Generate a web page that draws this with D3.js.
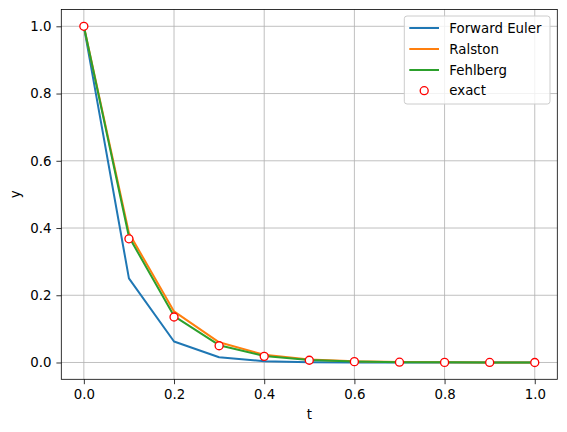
<!DOCTYPE html>
<html>
<head>
<meta charset="utf-8">
<script src="https://cdn.jsdelivr.net/npm/d3@7"></script>
<style>
  body { margin: 0; background: #fff; }
  svg text { font-family: "DejaVu Sans", sans-serif; fill: #000; }
</style>
</head>
<body>
<svg id="chart" width="567" height="432"></svg>
<script>
// time points and solutions
var t = [0.0, 0.1, 0.2, 0.3, 0.4, 0.5, 0.6, 0.7, 0.8, 0.9, 1.0];
var euler = [1.0, 0.25, 0.0625, 0.0156, 0.0039, 0.001, 0.0002, 0.00006, 0.00002, 0.0, 0.0];
var ralston = [1.0, 0.385, 0.152, 0.06, 0.023, 0.009, 0.0035, 0.0014, 0.0005, 0.0002, 0.0001];
var fehlberg = [1.0, 0.374, 0.138, 0.0515, 0.0192, 0.0071, 0.0026, 0.001, 0.0004, 0.0001, 0.00005];
var exact = [1.0, 0.3679, 0.1353, 0.0498, 0.0183, 0.0067, 0.0025, 0.0009, 0.0003, 0.0001, 0.00005];
var xTicks = [0.0, 0.2, 0.4, 0.6, 0.8, 1.0];
var yTicks = [0.0, 0.2, 0.4, 0.6, 0.8, 1.0];

var svg = d3.select("#chart");
var mLeft = 61.3, mRight = 557.3, mTop = 9.5, mBottom = 379.3;

var x = d3.scaleLinear().domain([-0.05, 1.05]).range([mLeft, mRight]);
var y = d3.scaleLinear().domain([-0.05, 1.05]).range([mBottom, mTop]);

// grid
svg.append("g").selectAll("line").data(xTicks).enter().append("line")
    .attr("x1", function(d) { return x(d); }).attr("x2", function(d) { return x(d); })
    .attr("y1", mTop).attr("y2", mBottom)
    .attr("stroke", "#b0b0b0").attr("stroke-width", 0.8);
svg.append("g").selectAll("line").data(yTicks).enter().append("line")
    .attr("y1", function(d) { return y(d); }).attr("y2", function(d) { return y(d); })
    .attr("x1", mLeft).attr("x2", mRight)
    .attr("stroke", "#b0b0b0").attr("stroke-width", 0.8);

// axes
var xAxis = svg.append("g").attr("transform", "translate(0," + mBottom + ")")
    .call(d3.axisBottom(x).tickValues(xTicks).tickFormat(d3.format(".1f")).tickSizeInner(4.9).tickSizeOuter(0).tickPadding(4.9));
var yAxis = svg.append("g").attr("transform", "translate(" + mLeft + ",0)")
    .call(d3.axisLeft(y).tickValues(yTicks).tickFormat(d3.format(".1f")).tickSizeInner(4.9).tickSizeOuter(0).tickPadding(4.9));
[xAxis, yAxis].forEach(function(a) {
  a.select(".domain").remove();
  a.selectAll(".tick line").attr("stroke", "#000").attr("stroke-width", 0.8);
  a.selectAll(".tick text").style("font-size", "13.33px").style("font-family", "DejaVu Sans");
});

// series lines
var line = d3.line()
    .x(function(d, i) { return x(t[i]); })
    .y(function(d) { return y(d); });

var series = [
  {name: "Forward Euler", values: euler, color: "#1f77b4"},
  {name: "Ralston", values: ralston, color: "#ff7f0e"},
  {name: "Fehlberg", values: fehlberg, color: "#2ca02c"}
];

var plot = svg.append("g");
series.forEach(function(s) {
  plot.append("path")
      .attr("d", line(s.values))
      .attr("fill", "none")
      .attr("stroke", s.color)
      .attr("stroke-width", 2)
      .attr("stroke-linejoin", "round");
});

plot.selectAll("circle").data(exact).enter().append("circle")
    .attr("cx", function(d, i) { return x(t[i]); })
    .attr("cy", function(d) { return y(d); })
    .attr("r", 4)
    .attr("fill", "#fff")
    .attr("stroke", "red")
    .attr("stroke-width", 1.33);

// frame
svg.append("rect")
    .attr("x", mLeft).attr("y", mTop)
    .attr("width", mRight - mLeft).attr("height", mBottom - mTop)
    .attr("fill", "none").attr("stroke", "#000").attr("stroke-width", 0.8);

// axis labels
svg.append("text").attr("x", (mLeft + mRight) / 2).attr("y", 419)
    .attr("text-anchor", "middle").style("font-size", "13.33px").text("t");
svg.append("text")
    .attr("transform", "translate(20," + ((mTop + mBottom) / 2) + ") rotate(-90)")
    .attr("text-anchor", "middle").style("font-size", "13.33px").text("y");

// legend
var legend = svg.append("g");
legend.append("rect")
    .attr("x", 404.3).attr("y", 16).attr("width", 145.7).attr("height", 88)
    .attr("rx", 2.7)
    .attr("fill", "#fff").attr("fill-opacity", 0.8)
    .attr("stroke", "#cccccc").attr("stroke-width", 1);

var legendItems = series.map(function(s) { return {name: s.name, color: s.color, type: "line"}; });
legendItems.push({name: "exact", color: "red", type: "marker"});
var rowY = [28, 49, 70, 90.7];

legendItems.forEach(function(d, i) {
  var yy = rowY[i];
  if (d.type == "line") {
    legend.append("line")
        .attr("x1", 409.3).attr("x2", 439).attr("y1", yy).attr("y2", yy)
        .attr("stroke", d.color).attr("stroke-width", 2);
  } else {
    legend.append("circle")
        .attr("cx", 424.2).attr("cy", yy).attr("r", 4)
        .attr("fill", "#fff").attr("stroke", d.color).attr("stroke-width", 1.33);
  }
  legend.append("text")
      .attr("x", 449.3).attr("y", yy).attr("dy", "0.35em")
      .style("font-size", "13.33px").text(d.name);
});
</script>
</body>
</html>
